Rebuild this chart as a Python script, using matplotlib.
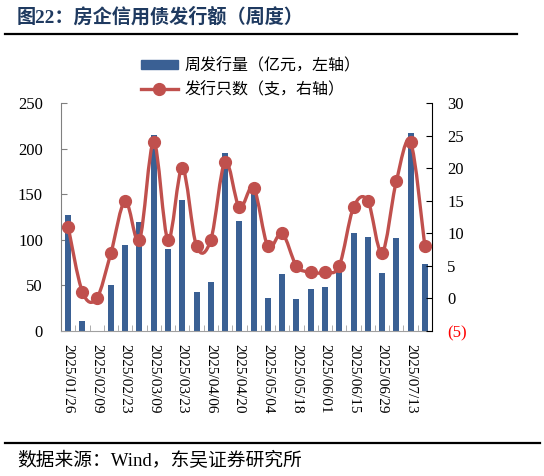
import numpy as np
import matplotlib
matplotlib.use("Agg")
import matplotlib.pyplot as plt
from matplotlib.path import Path
from matplotlib.patches import PathPatch
from matplotlib.lines import Line2D
from matplotlib.ticker import FuncFormatter

dates = ["2025/01/26", "2025/02/02", "2025/02/09", "2025/02/16", "2025/02/23",
         "2025/03/02", "2025/03/09", "2025/03/16", "2025/03/23", "2025/03/30",
         "2025/04/06", "2025/04/13", "2025/04/20", "2025/04/27", "2025/05/04",
         "2025/05/11", "2025/05/18", "2025/05/25", "2025/06/01", "2025/06/08",
         "2025/06/15", "2025/06/22", "2025/06/29", "2025/07/06", "2025/07/13",
         "2025/07/20"]
amount = [127, 11, 0, 50, 94, 120, 215, 90, 144, 43, 54, 195, 121, 152, 36,
          63, 35, 46, 48, 67, 108, 103, 64, 102, 217, 74]
count = [11, 1, 0, 7, 15, 9, 24, 9, 20, 8, 9, 21, 14, 17, 8, 10, 5, 4, 4, 5,
         14, 15, 7, 18, 24, 8]

title = "图22：房企信用债发行额（周度）"
source = "数据来源：Wind，东吴证券研究所"
bar_label = "周发行量（亿元，左轴）"
line_label = "发行只数（支，右轴）"

BLUE = "#3A6094"
RED = "#C0504D"
NAVY = "#1F3A60"

plt.rcParams['font.family'] = ['Liberation Serif', 'Noto Sans CJK SC']

fig = plt.figure(figsize=(5.44, 4.76), dpi=100)
ax = fig.add_axes([61/544, 1-331/476, (432-61)/544, (331-103)/476])
x = np.arange(len(dates))
ax.bar(x, amount, width=0.42, color=BLUE, zorder=2)
ax.set_xlim(-0.5, len(dates)-0.5)
ax.set_ylim(0, 250)
ax.set_yticks(np.arange(0, 251, 50))
ax.set_xticks(x[::2])
ax.set_xticklabels(dates[::2], rotation=-90, fontsize=11)
ax.set_xticks(np.arange(-0.5, len(dates), 1), minor=True)
ax.tick_params(axis='x', which='major', length=0, pad=9)
ax.tick_params(axis='x', which='minor', length=4, direction='in', color='#A0A0A0')
ax.tick_params(axis='y', direction='in', length=4, labelsize=12, pad=13, color='#808080')
ax.spines['top'].set_visible(False)
ax.spines['left'].set_color('#808080')
ax.spines['bottom'].set_color('#A0A0A0')
ax.spines['right'].set_visible(False)

ax2 = ax.twinx()
ax2.set_ylim(-5, 30)
ax2.set_yticks(np.arange(-5, 31, 5))
ax2.yaxis.set_major_formatter(FuncFormatter(lambda v, p: f"({abs(int(v))})" if v < 0 else f"{int(v)}"))
ax2.tick_params(axis='y', direction='in', length=4, labelsize=12, pad=11)
for lab in ax2.get_yticklabels():
    if lab.get_text().startswith("("):
        lab.set_color("red")
ax2.spines['top'].set_visible(False)
ax2.spines['left'].set_visible(False)
ax2.spines['bottom'].set_visible(False)
ax2.spines['right'].set_color('#000000')

# smooth line (Catmull-Rom as cubic Bezier)
xs = x.astype(float)
ys = np.array(count, dtype=float)
verts = [(xs[0], ys[0])]
codes = [Path.MOVETO]
n = len(xs)
for i in range(n-1):
    p0 = np.array([xs[max(i-1, 0)], ys[max(i-1, 0)]])
    p1 = np.array([xs[i], ys[i]])
    p2 = np.array([xs[i+1], ys[i+1]])
    p3 = np.array([xs[min(i+2, n-1)], ys[min(i+2, n-1)]])
    c1 = p1 + (p2 - p0) / 6.0
    c2 = p2 - (p3 - p1) / 6.0
    verts += [tuple(c1), tuple(c2), tuple(p2)]
    codes += [Path.CURVE4]*3
ax2.add_patch(PathPatch(Path(verts, codes), facecolor='none', edgecolor=RED,
                        lw=2.4, zorder=3, capstyle='round', joinstyle='round'))
ax2.plot(xs, ys, linestyle='none', marker='o', markersize=8.5, color=RED, zorder=4)

handles = [plt.Rectangle((0, 0), 1, 1, color=BLUE),
           Line2D([0], [0], color=RED, lw=2.4, marker='o', markersize=8.5)]
fig.legend(handles, [bar_label, line_label], loc='upper left',
           bbox_to_anchor=(141/544, 1-58/476), frameon=False,
           borderpad=0, borderaxespad=0, handlelength=2.3, handleheight=0.55,
           handletextpad=0.45, labelspacing=0.5,
           prop={'family': ['Liberation Serif', 'Noto Sans CJK SC'], 'size': 11.5})

fig.text(17/544, 1-17/476, title, fontsize=13.8, fontweight='bold', color=NAVY,
         va='center', ha='left')
fig.add_artist(Line2D([5/544, 517/544], [1-34/476, 1-34/476], color='black', lw=1.6))
fig.add_artist(Line2D([5/544, 540/544], [1-443/476, 1-443/476], color='black', lw=1.6))
fig.text(17/544, 1-461/476, source, fontsize=13.5, color='black', va='center', ha='left')

fig.savefig("out.png", dpi=100)
